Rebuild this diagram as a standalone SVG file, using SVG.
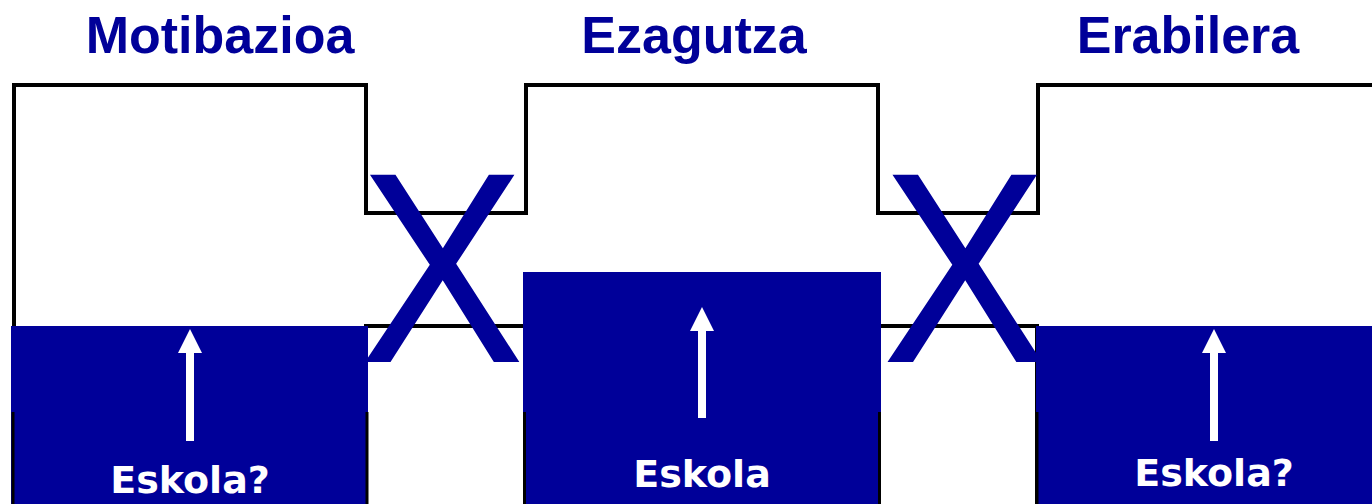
<svg xmlns="http://www.w3.org/2000/svg" width="1372" height="504" viewBox="0 0 1372 504">
  <style>
    .title { font-family: "Liberation Sans", Arial, sans-serif; font-weight: bold; font-size: 52px; fill: #000099; text-anchor: middle; }
    .label { font-family: "DejaVu Sans", Verdana, sans-serif; font-weight: bold; font-size: 38px; fill: #ffffff; text-anchor: middle; }
    .cross { font-family: "Liberation Sans", Arial, sans-serif; font-size: 272px; fill: #000099; text-anchor: middle; }
    .outline { fill: none; stroke: #000000; stroke-width: 4; stroke-linejoin: miter; }
    .edge { fill: none; stroke: #000000; stroke-width: 3; }
    .level { fill: #000099; }
    .arrow { fill: #ffffff; }
  </style>
  <rect width="1372" height="504" fill="#ffffff"/>

  <g id="connectors">
    <polyline class="outline" points="14,506 14,85 366,85 366,213 526,213 526,85 878,85 878,213 1038,213 1038,85 1374,85"/>
    <polyline class="outline" points="366,506 366,326 526,326 526,506"/>
    <polyline class="outline" points="879,506 879,326 1037,326 1037,506"/>
  </g>

  <g id="motibazioa">
    <text class="title" x="220" y="53">Motibazioa</text>
    <rect class="level" x="11" y="326" width="357" height="178"/>
    <line class="edge" x1="13" y1="412" x2="13" y2="504"/>
    <line class="edge" x1="367" y1="412" x2="367" y2="504"/>
    <polygon class="arrow" points="190,329 202,353 194,353 194,441 186,441 186,353 178,353"/>
    <text class="label" x="190" y="493">Eskola?</text>
  </g>

  <g id="ezagutza">
    <text class="title" x="694" y="53">Ezagutza</text>
    <rect class="level" x="523" y="272" width="358" height="232"/>
    <line class="edge" x1="524.5" y1="412" x2="524.5" y2="504"/>
    <line class="edge" x1="879.5" y1="412" x2="879.5" y2="504"/>
    <polygon class="arrow" points="702,307 714,331 706,331 706,418 698,418 698,331 690,331"/>
    <text class="label" x="702" y="487">Eskola</text>
  </g>

  <g id="erabilera">
    <text class="title" x="1188" y="53">Erabilera</text>
    <rect class="level" x="1036" y="326" width="336" height="178"/>
    <line class="edge" x1="1037" y1="412" x2="1037" y2="504"/>
    <polygon class="arrow" points="1214,329 1226,353 1218,353 1218,441 1210,441 1210,353 1202,353"/>
    <text class="label" x="1214" y="486">Eskola?</text>
  </g>

  <g id="cross-1">
    <text class="cross" transform="translate(442,362) scale(0.91,1)">X</text>
  </g>
  <g id="cross-2">
    <text class="cross" transform="translate(964.5,362) scale(0.91,1)">X</text>
  </g>
</svg>
